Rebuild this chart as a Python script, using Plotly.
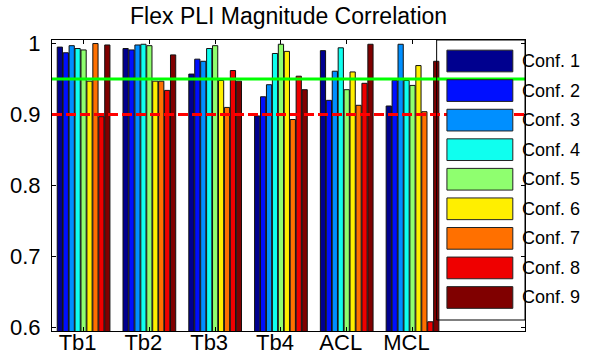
import plotly.graph_objects as go

# ---------------- data ----------------
categories = ["Tb1", "Tb2", "Tb3", "Tb4", "ACL", "MCL"]
series_names = ["Conf. 1", "Conf. 2", "Conf. 3", "Conf. 4", "Conf. 5",
                "Conf. 6", "Conf. 7", "Conf. 8", "Conf. 9"]
conf1 = [0.995, 0.993, 0.957, 0.898, 0.990, 0.912]
conf2 = [0.987, 0.991, 0.978, 0.925, 0.920, 0.948]
conf3 = [0.997, 0.998, 0.975, 0.942, 0.961, 0.999]
conf4 = [0.993, 0.999, 0.993, 0.986, 0.994, 0.948]
conf5 = [0.991, 0.997, 0.997, 0.999, 0.935, 0.941]
conf6 = [0.947, 0.947, 0.948, 0.989, 0.960, 0.969]
conf7 = [1.000, 0.947, 0.910, 0.893, 0.913, 0.904]
conf8 = [0.897, 0.934, 0.962, 0.954, 0.944, 0.608]
conf9 = [0.998, 0.984, 0.947, 0.935, 0.999, 0.975]
series_values = [conf1, conf2, conf3, conf4, conf5, conf6, conf7, conf8, conf9]
colors = ["#00008F", "#000FFF", "#008FFF", "#0FFFEF", "#8FFF6F",
          "#FFEF00", "#FF7000", "#EF0000", "#800000"]
green_level = 0.95
red_level = 0.90
y_ticks = [0.6, 0.7, 0.8, 0.9, 1.0]
y_tick_text = ["0.6", "0.7", "0.8", "0.9", "1"]

# ---------------- layout geometry ----------------
W, H = 589, 356
L, R, T, B = 51.7, 525.5, 40, 331
FONT = "Liberation Sans, Arial, Helvetica, sans-serif"

fig = go.Figure()
for name, vals, col in zip(series_names, series_values, colors):
    fig.add_trace(go.Bar(
        x=categories, y=vals, name=name,
        marker=dict(color=col, line=dict(color="#111111", width=1)),
        showlegend=False,
    ))

# threshold lines
fig.add_hline(y=green_level, line=dict(color="#00FF00", width=3), layer="above")
fig.add_hline(y=red_level, line=dict(color="#FF0000", width=3, dash="10px,4px"), layer="above")


def px_x(p):
    return (p - L) / (R - L)


def px_y(p):
    return (B - p) / (B - T)


# custom legend (MATLAB style)
legend_shapes = []
leg_left, leg_right, leg_top, leg_bot = 437, R, T, 320
legend_shapes.append(dict(type="rect", xref="paper", yref="paper",
                          x0=px_x(leg_left), x1=px_x(leg_right),
                          y0=px_y(leg_bot), y1=px_y(leg_top),
                          line=dict(color="black", width=1), fillcolor="rgba(0,0,0,0)",
                          layer="above"))
annotations = []
sw_x0, sw_x1, sw_h = 447.3, 513.3, 21.7
first_c, step = 61.0, 29.56
for i, (name, col) in enumerate(zip(series_names, colors)):
    cy = first_c + step * i
    legend_shapes.append(dict(type="rect", xref="paper", yref="paper",
                              x0=px_x(sw_x0), x1=px_x(sw_x1),
                              y0=px_y(cy + sw_h / 2), y1=px_y(cy - sw_h / 2),
                              line=dict(color="#222222", width=1), fillcolor=col,
                              layer="above"))
    annotations.append(dict(text=name, xref="paper", yref="paper",
                            x=px_x(520.5), y=px_y(cy), xanchor="left", yanchor="middle",
                            showarrow=False, font=dict(family=FONT, size=18, color="black")))
for s in legend_shapes:
    fig.add_shape(**s)

fig.update_layout(
    width=W, height=H,
    margin=dict(l=L, r=W - R, t=T, b=H - B, pad=0, autoexpand=False),
    paper_bgcolor="white", plot_bgcolor="white",
    barmode="group", bargap=0.188, bargroupgap=0.12,
    title=dict(text="Flex PLI Magnitude Correlation", x=(0.5 * (L + R)) / W, xanchor="center",
               y=1 - 16 / H, yanchor="middle", yref="container", automargin=False,
               font=dict(family=FONT, size=23, color="black")),
    font=dict(family=FONT, size=22, color="black"),
    annotations=annotations,
)
fig.update_xaxes(
    type="category", range=[-0.48, 6.71], automargin=False,
    showline=True, linecolor="black", linewidth=1, mirror="allticks",
    ticks="inside", ticklen=4, tickcolor="black",
    showgrid=False, zeroline=False,
    tickfont=dict(family=FONT, size=22, color="black"),
    ticklabelshift=-6, ticklabelstandoff=-8,
)
fig.update_yaxes(
    range=[0.595, 1.005], tickvals=y_ticks, ticktext=y_tick_text, automargin=False,
    showline=True, linecolor="black", linewidth=1, mirror="allticks",
    ticks="inside", ticklen=4, tickcolor="black",
    showgrid=False, zeroline=False,
    tickfont=dict(family=FONT, size=22, color="black"),
    ticklabelstandoff=6,
)

fig.write_html("out.html")
